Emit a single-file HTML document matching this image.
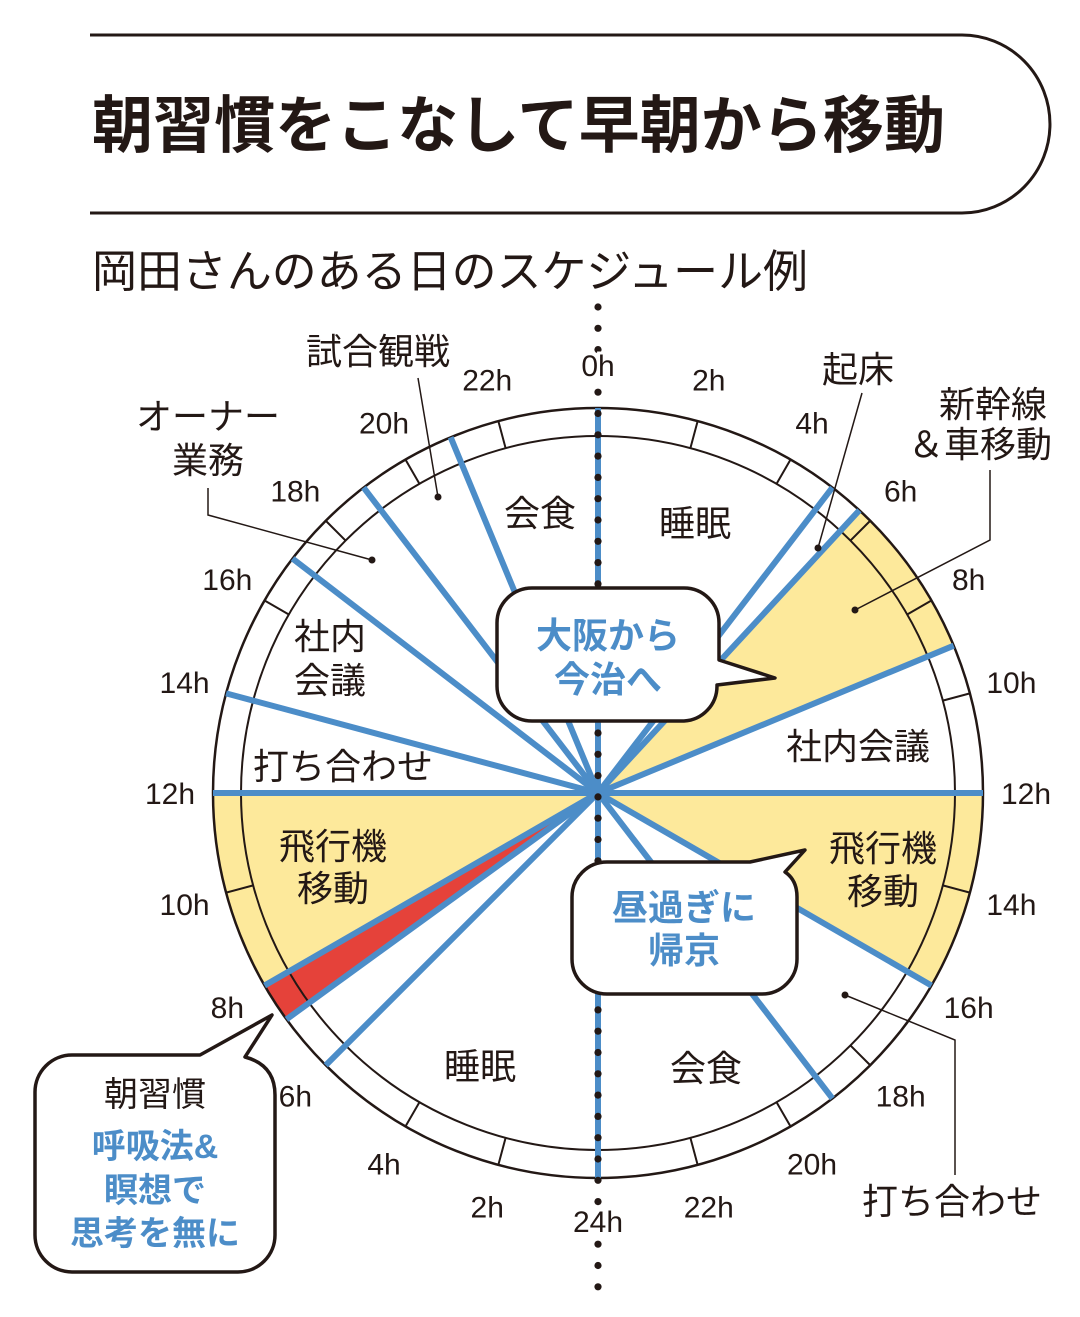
<!DOCTYPE html>
<html><head><meta charset="utf-8"><style>
html,body{margin:0;padding:0;background:#fff;}
svg{display:block;font-family:"Liberation Sans","Noto Sans CJK JP",sans-serif;}
</style></head><body>
<svg id="chart" width="1080" height="1317" viewBox="0 0 1080 1317" xmlns="http://www.w3.org/2000/svg">
<path d="M90,35 H962 A88,89 0 0 1 962,213 H90" fill="none" stroke="#231815" stroke-width="3"/>
<text x="92" y="147" font-size="62" font-weight="bold" fill="#231815" textLength="853" lengthAdjust="spacingAndGlyphs">朝習慣をこなして早朝から移動</text>
<text x="92" y="287" font-size="45" fill="#231815" textLength="716" lengthAdjust="spacingAndGlyphs">岡田さんのある日のスケジュール例</text>
<g id="plot"></g>
</svg>
<script>
const day1Boundaries = [0, 5, 5.7, 9, 12, 16, 19, 24];
const day2Boundaries = [0, 6, 7.2, 8, 12, 14, 17, 19, 21, 24];
const day1Yellow = [[5.7, 9], [12, 16]];
const day2Yellow = [[8, 12]];
const day2Red = [[7.2, 8]];
const tickHours = [2, 4, 6, 8, 10, 12, 14, 16, 18, 20, 22];
const day1TickLabels = ["0h","2h","4h","6h","8h","10h","12h","14h","16h","18h","20h","22h","24h"];
const day2TickLabels = ["2h","4h","6h","8h","10h","12h","14h","16h","18h","20h","22h"];

const NS = "http://www.w3.org/2000/svg";
const cx = 598, cy = 793, R = 385, RI = 357;
const plot = document.getElementById('plot');
function ang(day, h) { return (day === 1 ? h * 7.5 : 180 + h * 7.5) * Math.PI / 180; }
function pt(day, h, r) { const a = ang(day, h); return [cx + r * Math.sin(a), cy - r * Math.cos(a)]; }
function mk(tag, attrs, parent) {
  const e = document.createElementNS(NS, tag);
  for (const k in attrs) e.setAttribute(k, attrs[k]);
  (parent || plot).appendChild(e); return e;
}
function sector(day, h0, h1, fill, name) {
  const p0 = pt(day, h0, R), p1 = pt(day, h1, R);
  const large = (h1 - h0) * 7.5 > 180 ? 1 : 0;
  const e = mk('path', { d: `M${cx},${cy} L${p0[0]},${p0[1]} A${R},${R} 0 ${large} 1 ${p1[0]},${p1[1]} Z`, fill: fill });
  
  
}
day1Yellow.forEach(s => sector(1, s[0], s[1], '#fde99b', 'travel-sector-day1'));
day2Yellow.forEach(s => sector(2, s[0], s[1], '#fde99b', 'travel-sector-day2'));
day2Red.forEach(s => sector(2, s[0], s[1], '#e5423a', 'morning-routine-sector'));

let c1 = mk('circle', { cx: cx, cy: cy, r: R, fill: 'none', stroke: '#231815', 'stroke-width': 2.5 });


let c2 = mk('circle', { cx: cx, cy: cy, r: RI, fill: 'none', stroke: '#231815', 'stroke-width': 2 });



[1, 2].forEach(day => tickHours.forEach(h => {
  const a = pt(day, h, RI), b = pt(day, h, R);
  const t = mk('line', { x1: a[0], y1: a[1], x2: b[0], y2: b[1], stroke: '#231815', 'stroke-width': 2 });
  
  
}));

function radial(day, h) {
  const b = pt(day, h, R);
  const l = mk('line', { x1: cx, y1: cy, x2: b[0], y2: b[1], stroke: '#4c8dc8', 'stroke-width': 6 });
  
  
}
day1Boundaries.forEach(h => radial(1, h));
day2Boundaries.forEach(h => radial(2, h));
for (let y = 307; y <= 1290; y += 21.3) {
  const d = mk('circle', { cx: cx, cy: y, r: 3.6, fill: '#231815' });
  
  
}

function label(day, h, s) {
  const p = pt(day, h, 428);
  const t = mk('text', { x: p[0], y: p[1] + 11, 'font-size': 30, fill: '#231815', 'text-anchor': 'middle', stroke: '#fff', 'stroke-width': 6, 'paint-order': 'stroke' });
  t.textContent = s;
  
  
}
day1TickLabels.forEach((s, i) => label(1, i * 2, s));
day2TickLabels.forEach((s, i) => label(2, (i + 1) * 2, s));

function txt(x, y, s, size, name, opts) {
  const t = mk('text', Object.assign({ x: x, y: y, 'font-size': size, fill: '#231815', 'text-anchor': 'middle' }, opts || {}));
  t.textContent = s;
  
  
}
const S = 36;
txt(695, 536, '睡眠', S, 'label-sleep-day1');
txt(540, 526, '会食', S, 'label-dinner-day2');
txt(858, 759, '社内会議', S, 'label-meeting-day1');
txt(883, 861, '飛行機', S, 'label-flight-day1');
txt(883, 904, '移動', S, 'label-flight-day1-2');
txt(706, 1081, '会食', S, 'label-dinner-day1');
txt(480, 1079, '睡眠', S, 'label-sleep-day2');
txt(333, 859, '飛行機', S, 'label-flight-day2');
txt(333, 901, '移動', S, 'label-flight-day2-2');
txt(343, 779, '打ち合わせ', S, 'label-briefing-day2');
txt(330, 649, '社内', S, 'label-meeting-day2');
txt(330, 693, '会議', S, 'label-meeting-day2-2');

txt(378, 364, '試合観戦', S, 'label-game');
txt(208, 429, 'オーナー', S, 'label-owner');
txt(208, 473, '業務', S, 'label-owner-2');
txt(858, 382, '起床', S, 'label-wake');
txt(993, 417, '新幹線', S, 'label-shinkansen');
txt(980, 457, '＆車移動', S, 'label-shinkansen-2');
txt(952, 1214, '打ち合わせ', S, 'label-briefing-day1');
function leader(d, dx, dy, name) {
  const p = mk('path', { d: d, fill: 'none', stroke: '#231815', 'stroke-width': 1.5 });
  
  
  const c = mk('circle', { cx: dx, cy: dy, r: 3.5, fill: '#231815' });
  
  
}
leader('M418,378 L438,497', 438, 497, 'leader-game');
leader('M208,488 V515 L372,560', 372, 560, 'leader-owner');
leader('M862,393 L818,548', 818, 548, 'leader-wake');
leader('M990,470 V540 L855,610', 855, 610, 'leader-shinkansen');
leader('M955,1175 V1040 L845,995', 845, 995, 'leader-briefing');

function callout(d, name) {
  const p = mk('path', { d: d, fill: '#fff', stroke: '#231815', 'stroke-width': 3.5, 'stroke-linejoin': 'round' });
  
  
}
callout('M532,588 H684 A35,35 0 0 1 719,623 V660 L775,678 L717,685 V686 A35,35 0 0 1 684,721 H532 A35,35 0 0 1 497,686 V623 A35,35 0 0 1 532,588 Z', 'callout-osaka');
callout('M607,862 H750 L805,850 L785,872 Q797,880 797,897 V959 A35,35 0 0 1 762,994 H607 A35,35 0 0 1 572,959 V897 A35,35 0 0 1 607,862 Z', 'callout-return');
callout('M72,1055 H200 L272,1015 L245,1057 Q275,1065 275,1095 V1235 A37,37 0 0 1 238,1272 H72 A37,37 0 0 1 35,1235 V1092 A37,37 0 0 1 72,1055 Z', 'callout-routine');
const B = { fill: '#4c8dc8', 'font-weight': 'bold' };
txt(608, 648, '大阪から', 36, 'callout-osaka-text', B);
txt(608, 692, '今治へ', 36, 'callout-osaka-text-2', B);
txt(684, 920, '昼過ぎに', 36, 'callout-return-text', B);
txt(684, 963, '帰京', 36, 'callout-return-text-2', B);
txt(155, 1106, '朝習慣', 34, 'callout-routine-title');
txt(155, 1158, '呼吸法&', 34, 'callout-routine-text', B);
txt(155, 1202, '瞑想で', 34, 'callout-routine-text-2', B);
txt(155, 1245, '思考を無に', 34, 'callout-routine-text-3', B);
</script>
</body></html>
